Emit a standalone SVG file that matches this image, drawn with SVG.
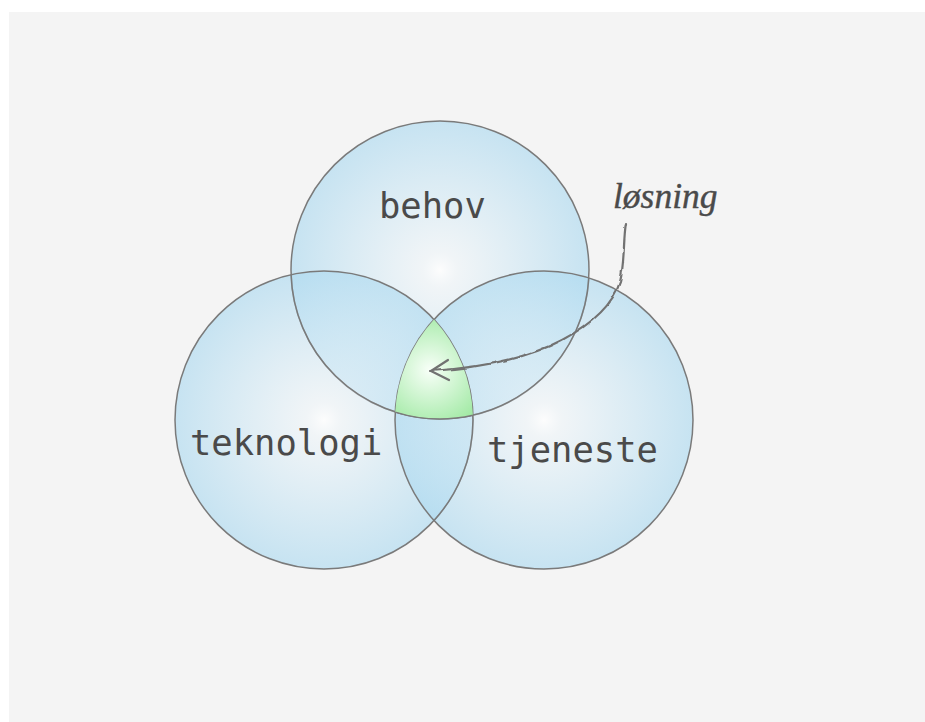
<svg xmlns="http://www.w3.org/2000/svg" width="925" height="722" viewBox="0 0 925 722">
<style>
.ring{fill:url(#blue);stroke:none}
.edge{fill:none;stroke:#7a7a7a;stroke-width:1.5}
.lbl{font-family:"DejaVu Sans Mono",monospace;font-size:35.5px;fill:#4a4a4a}
.it{font-family:"Liberation Serif",serif;font-style:italic;font-size:35.5px;fill:#4a4a4a;stroke:#4a4a4a;stroke-width:0.4}
.con{fill:none;stroke:#727272;stroke-width:2.2;stroke-linecap:round;stroke-linejoin:round}
</style>
<defs>
<radialGradient id="blue" cx="0.5" cy="0.5" r="0.5">
<stop offset="0" stop-color="#ffffff" stop-opacity="0.8"/>
<stop offset="0.12" stop-color="#eef5f9" stop-opacity="0.6"/>
<stop offset="1" stop-color="#aedaf0" stop-opacity="0.65"/>
</radialGradient>
<radialGradient id="green" gradientUnits="userSpaceOnUse" cx="430" cy="370" r="62">
<stop offset="0" stop-color="#f8fff8"/>
<stop offset="1" stop-color="#9fe9a2"/>
</radialGradient>
<filter id="wobble" x="-10%" y="-10%" width="120%" height="120%">
<feTurbulence type="fractalNoise" baseFrequency="0.09" numOctaves="1" seed="7"/>
<feDisplacementMap in="SourceGraphic" scale="4" xChannelSelector="R" yChannelSelector="G"/>
</filter>
</defs>
<rect x="0" y="0" width="925" height="722" fill="#ffffff"/>
<rect x="9" y="12" width="916" height="710" fill="#f4f4f4"/>
<g id="behov">
<circle class="ring" cx="440" cy="270" r="149"/>
<circle class="edge" cx="440" cy="270" r="149"/>
<text class="lbl" x="379" y="218">behov</text>
</g>
<g id="teknologi">
<circle class="ring" cx="324" cy="420" r="149"/>
<circle class="edge" cx="324" cy="420" r="149"/>
<text class="lbl" x="190" y="455">teknologi</text>
</g>
<g id="tjeneste">
<circle class="ring" cx="544" cy="420" r="149"/>
<circle class="edge" cx="544" cy="420" r="149"/>
<path class="edge" d="M 291.1 274.7 A 149 149 0 0 0 588.8 277.9"/>
<path class="edge" d="M 434 319.5 A 149 149 0 0 1 434 520.5"/>
<text class="lbl" x="487" y="462">tjeneste</text>
</g>
<g id="losning">
<path d="M 434 319.5 A 149 149 0 0 0 395.2 412.1 A 149 149 0 0 0 472.9 415.3 A 149 149 0 0 0 434 319.5 Z" fill="url(#green)"/>
<path class="edge" d="M 395.2 412.1 A 149 149 0 0 0 472.9 415.3"/>
<text class="it" x="613" y="208">løsning</text>
</g>
<g id="connectors">
<path class="con" filter="url(#wobble)" d="M 626 223 C 623 240 625 262 620 282 C 613 304 592 324 562 340 C 532 356 490 367 431 371"/>
<path class="con" d="M 448 360 L 431 371 L 449 380"/>
</g>
</svg>
